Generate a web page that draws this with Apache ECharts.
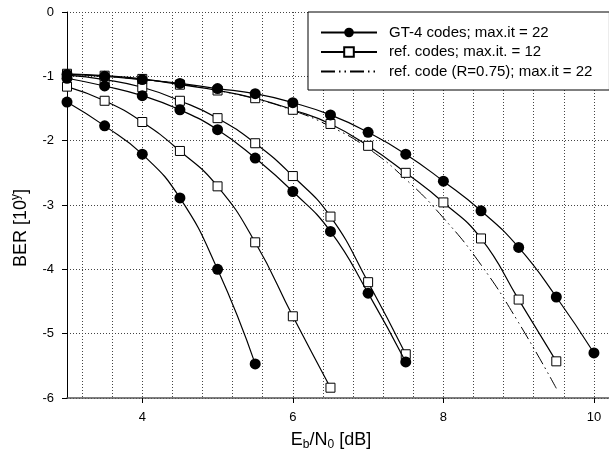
<!DOCTYPE html>
<html>
<head>
<meta charset="utf-8">
<script src="https://cdn.jsdelivr.net/npm/echarts@6/dist/echarts.min.js"></script>
<style>
  html, body { margin: 0; padding: 0; background: #fff; }
  #chart { width: 609px; height: 457px; }
</style>
</head>
<body>
<div id="chart"></div>
<script>
// Eb/N0 values [dB]
const EBN0 = [3, 3.5, 4, 4.5, 5, 5.5, 6, 6.5, 7, 7.5, 8, 8.5, 9, 9.5, 10];

// GT-4 codes; max.it = 22 (filled circles), log10(BER)
const gt4_a = [-1.40, -1.77, -2.21, -2.89, -4.00, -5.47];
const gt4_b = [-1.03, -1.15, -1.30, -1.52, -1.83, -2.27, -2.79, -3.41, -4.37, -5.44];
const gt4_c = [-0.97, -1.00, -1.05, -1.11, -1.19, -1.27, -1.41, -1.60, -1.87, -2.21, -2.63, -3.09, -3.66, -4.43, -5.30];

// ref. codes; max.it. = 12 (open squares)
const ref_a = [-1.16, -1.38, -1.71, -2.16, -2.71, -3.58, -4.73, -5.84];
const ref_b = [-0.98, -1.05, -1.17, -1.38, -1.65, -2.04, -2.55, -3.18, -4.20, -5.32];
const ref_c = [-0.96, -0.99, -1.04, -1.13, -1.22, -1.34, -1.52, -1.74, -2.08, -2.50, -2.96, -3.52, -4.47, -5.43];

// ref. code (R=0.75); max.it = 22 (dash-dot, no markers)
const ref075 = [-0.97, -1.00, -1.05, -1.12, -1.22, -1.35, -1.53, -1.78, -2.12, -2.60, -3.20, -3.93, -4.83, -5.85];

// axis ticks
const xLabelTicks = [4, 6, 8, 10];
const xGridLines = [3.2, 3.6, 4.0, 4.4, 4.8, 5.2, 5.6, 6.0, 6.4, 6.8, 7.2, 7.6, 8.0, 8.4, 8.8, 9.2, 9.6, 10.0];

const NAME_GT = 'GT-4 codes; max.it = 22';
const NAME_REF = 'ref. codes; max.it. = 12';
const NAME_075 = 'ref. code (R=0.75); max.it = 22';

const FONT = "'Liberation Sans', Arial, sans-serif";

function pts(vals) { return vals.map((v, i) => [EBN0[i], v]); }

function circleSeries(vals) {
  return {
    name: NAME_GT, type: 'line', data: pts(vals), smooth: 0.5,
    symbol: 'circle', symbolSize: 11,
    lineStyle: { color: '#000', width: 1.2 },
    itemStyle: { color: '#000', borderColor: '#000', borderWidth: 0 },
    z: 4
  };
}
function squareSeries(vals) {
  return {
    name: NAME_REF, type: 'line', data: pts(vals), smooth: 0.5,
    symbol: 'rect', symbolSize: 9,
    lineStyle: { color: '#000', width: 1.2 },
    itemStyle: { color: '#fff', borderColor: '#000', borderWidth: 1 },
    z: 3
  };
}

const chart = echarts.init(document.getElementById('chart'), null, { renderer: 'canvas' });

chart.setOption({
  animation: false,
  backgroundColor: '#fff',
  textStyle: { fontFamily: FONT, color: '#000' },
  grid: { left: 67, top: 12, width: 544, height: 386, containLabel: false },
  xAxis: [
    {
      type: 'value', min: 3, max: 10.2,
      axisLine: { show: true, onZero: false, lineStyle: { color: '#555', width: 1.5 } },
      axisTick: { show: true, customValues: xLabelTicks, length: 5, lineStyle: { color: '#000' } },
      axisLabel: { customValues: xLabelTicks, margin: 13, fontSize: 13, color: '#000', fontFamily: FONT },
      splitLine: { show: false }
    },
    {
      type: 'value', min: 3, max: 10.2, position: 'bottom',
      axisLine: { show: false },
      axisTick: { show: false, customValues: xGridLines },
      axisLabel: { show: false },
      splitLine: { show: true, lineStyle: { color: '#444', width: 1, type: [1, 2] } }
    }
  ],
  yAxis: {
    type: 'value', min: -6, max: 0, interval: 1,
    axisLine: { show: true, onZero: false, lineStyle: { color: '#000', width: 1 } },
    axisTick: { show: true, length: 5, lineStyle: { color: '#000' } },
    axisLabel: { margin: 13, fontSize: 13, color: '#000', fontFamily: FONT },
    splitLine: { show: true, lineStyle: { color: '#444', width: 1, type: [1, 2] } }
  },
  legend: {
    orient: 'vertical', left: 308, top: 12,
    padding: [13, 17, 11, 12],
    itemWidth: 56, itemHeight: 12, itemGap: 4.5,
    backgroundColor: '#fff', borderColor: '#000', borderWidth: 1,
    textStyle: { fontSize: 15, lineHeight: 15, color: '#000', fontFamily: FONT, padding: [0, 0, 0, 7] },
    data: [
      NAME_GT,
      NAME_REF,
      { name: NAME_075, itemStyle: { color: 'rgba(0,0,0,0)', borderColor: 'rgba(0,0,0,0)', opacity: 0 } }
    ]
  },
  graphic: [
    {
      type: 'text', x: 331, y: 440,
      style: {
        text: '{m|E}{s|b}{m|/N}{s|0}{m| [dB]}',
        align: 'center', verticalAlign: 'middle',
        rich: {
          m: { fontSize: 18, lineHeight: 22, verticalAlign: 'middle', fontFamily: FONT, fill: '#000' },
          s: { fontSize: 12, lineHeight: 12, verticalAlign: 'bottom', fontFamily: FONT, fill: '#000' }
        }
      }
    },
    {
      type: 'text', x: 21, y: 228, rotation: Math.PI / 2,
      style: {
        text: '{m|BER [10}{s|y}{m|]}',
        align: 'center', verticalAlign: 'middle',
        rich: {
          m: { fontSize: 18, lineHeight: 22, verticalAlign: 'middle', fontFamily: FONT, fill: '#000' },
          s: { fontSize: 12, lineHeight: 12, verticalAlign: 'top', fontFamily: FONT, fill: '#000' }
        }
      }
    }
  ],
  series: [
    circleSeries(gt4_a), circleSeries(gt4_b), circleSeries(gt4_c),
    squareSeries(ref_a), squareSeries(ref_b), squareSeries(ref_c),
    {
      name: NAME_075, type: 'line', data: pts(ref075), smooth: 0.5,
      symbol: 'none', showSymbol: false,
      lineStyle: { color: '#000', width: 1, type: [14, 4, 1.5, 4, 1.5, 4] },
      itemStyle: { color: '#000' },
      z: 2
    }
  ]
});
</script>
</body>
</html>
